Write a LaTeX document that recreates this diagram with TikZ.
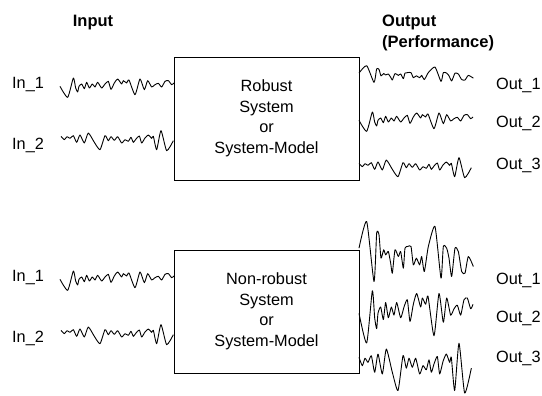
\documentclass[tikz,border=0pt]{standalone}
\usepackage{fontspec}
\setmainfont{Liberation Sans}
\begin{document}
\begin{tikzpicture}[x=1pt,y=-1pt,
  sysbox/.style={draw,line width=0.8pt},
  lbl/.style={font=\fontsize{16.3}{19}\selectfont,inner sep=0pt},
  head/.style={font=\fontsize{16.5}{20.5}\selectfont\bfseries,inner sep=0pt,align=left},
  boxtxt/.style={font=\fontsize{16.3}{20.5}\selectfont,align=center,inner sep=0pt},
  sig/.style={line width=0.9pt,line join=round}]
\useasboundingbox (0,0) rectangle (542,396);
\newcommand{\wavA}[1]{\draw[sig,#1] plot[smooth,tension=0.35] coordinates {(0,7) (23,40) (40,-18) (47,12) (53,24) (57,7) (65,0) (73,14) (80,-5) (88,12) (97,0) (105,9) (113,-5) (125,12) (135,0) (145,-8) (153,16) (163,-3) (173,-15) (185,0) (190,-10) (200,-3) (207,-12) (225,32) (240,-15) (253,17) (263,-10) (275,9) (285,2) (295,-2) (305,9) (315,-8) (325,-10) (335,2) (342,-3)};}
\newcommand{\wavB}[1]{\draw[sig,#1] plot[smooth,tension=0.35] coordinates {(0,-8) (10,2) (18,-7) (27,-2) (37,-10) (47,10) (57,-12) (70,12) (82,-18) (100,10) (117,32) (132,-10) (142,5) (150,-7) (160,4) (170,-7) (182,12) (192,2) (202,7) (210,-5) (217,10) (225,0) (235,-9) (242,12) (252,-3) (262,-12) (272,-2) (277,-8) (287,32) (300,-25) (317,35) (337,5)};}
\newcommand{\wavC}[1]{\draw[sig,#1] plot[smooth,tension=0.35] coordinates {(0,-10) (23,-90) (45,90) (53,-55) (60,-50) (66,20) (74,-5) (80,10) (88,0) (95,35) (100,65) (108,-5) (118,15) (125,0) (133,50) (138,-10) (146,-15) (156,-15) (163,40) (172,20) (182,40) (188,15) (196,60) (208,-15) (228,-75) (246,80) (253,-15) (263,-10) (270,20) (278,75) (288,-10) (298,0) (308,60) (318,65) (328,15) (343,45)};}

% headings
\node[head,anchor=base] (hin) at (93,27) {Input};
\node[head,anchor=base west] (hout) at (382,27) {Output};
\node[head,anchor=base west] (hperf) at (382,48) {(Performance)};

% boxes
\draw[sysbox] (174,57) rectangle (359,180);
\node[boxtxt] (rob) at (266.5,118.5) {Robust\\System\\or\\System-Model};
\draw[sysbox] (174,250) rectangle (359,373);
\node[boxtxt] (nrob) at (266.5,311.5) {Non-robust\\System\\or\\System-Model};

% labels
\node[lbl,anchor=west] (i1a) at (12,85) {In\_1};
\node[lbl,anchor=west] (i2a) at (12,145) {In\_2};
\node[lbl,anchor=west] (o1a) at (496,85) {Out\_1};
\node[lbl,anchor=west] (o2a) at (496,123) {Out\_2};
\node[lbl,anchor=west] (o3a) at (496,165) {Out\_3};
\node[lbl,anchor=west] (i1b) at (12,278) {In\_1};
\node[lbl,anchor=west] (i2b) at (12,338) {In\_2};
\node[lbl,anchor=west] (o1b) at (496,280) {Out\_1};
\node[lbl,anchor=west] (o2b) at (496,318) {Out\_2};
\node[lbl,anchor=west] (o3b) at (496,358) {Out\_3};

% signals (top)
\wavA{shift={(60,84)},xscale=1/3,yscale=1/3}
\wavB{shift={(61,139)},xscale=1/3,yscale=1/3}
\wavC{shift={(359,74)},xscale=1/3,yscale=0.0926}
\wavA{shift={(359,118)},xscale=1/3,yscale=1/3}
\wavB{shift={(359,166)},xscale=1/3,yscale=1/3}
% signals (bottom)
\wavA{shift={(60,277)},xscale=1/3,yscale=1/3}
\wavB{shift={(61,333)},xscale=1/3,yscale=1/3}
\wavC{shift={(359,251.5)},xscale=1/3,yscale=1/3}
\wavA{shift={(359,307)},xscale=1/3,yscale=0.9}
\wavB{shift={(359,364)},xscale=1/3,yscale=0.83}
\end{tikzpicture}
\end{document}
